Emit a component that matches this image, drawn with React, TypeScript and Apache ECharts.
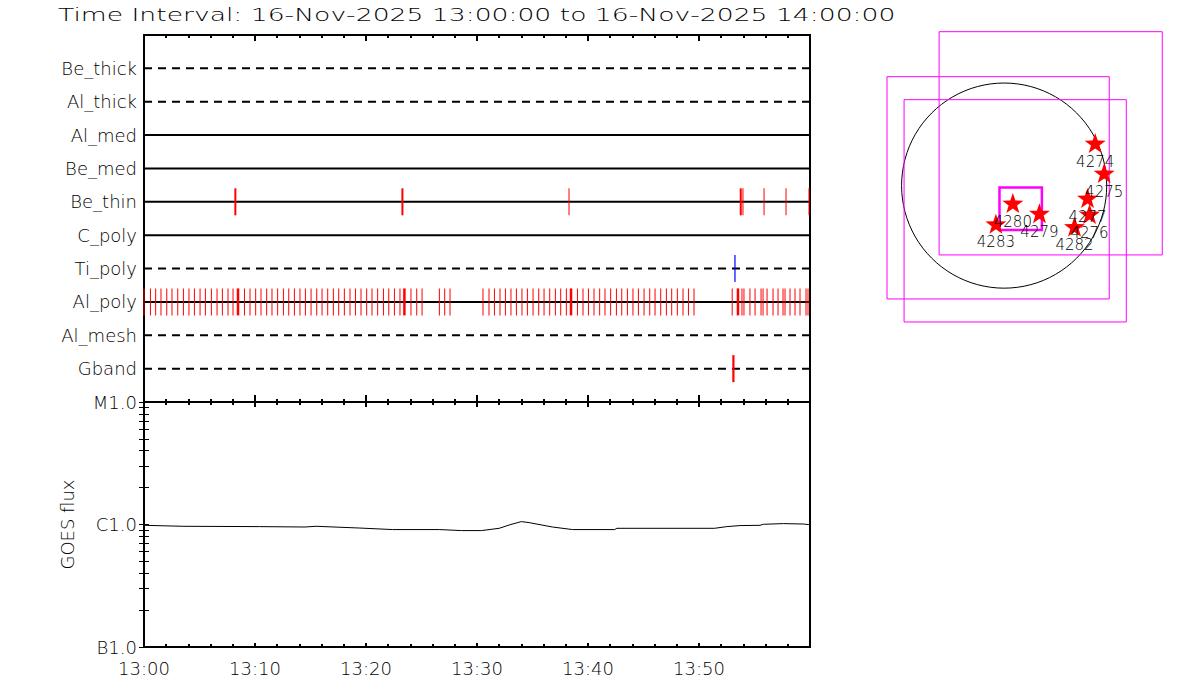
import React, { useEffect, useRef } from 'react';
import * as echarts from 'echarts';

const TITLE = 'Time Interval: 16-Nov-2025 13:00:00 to 16-Nov-2025 14:00:00';
const HOUR_PREFIX = '13:';

// upper panel rows, top to bottom
const ROW_NAMES = ['Be_thick', 'Al_thick', 'Al_med', 'Be_med', 'Be_thin', 'C_poly', 'Ti_poly', 'Al_poly', 'Al_mesh', 'Gband'];
const ROW_DASHED = [true, true, false, false, false, false, true, false, true, true];

// event times (minutes after 13:00)
const BE_THIN_THIN = [38.29, 53.96, 55.86, 57.84, 59.91];
const BE_THIN_THICK = [8.23, 23.28, 53.76];
const TI_POLY_BLUE = [53.24];
const GBAND_THICK = [53.1];
const AL_POLY_THICK = [8.47, 23.46, 38.47, 53.51];
const AL_POLY_THIN = [
  0.0, 0.58, 1.05, 1.53, 2.05, 2.52, 3.04, 3.55, 4.05, 4.54, 5.05, 5.53, 6.07, 6.58, 7.06, 7.57, 8.02,
  9.05, 9.55, 10.06, 10.54, 11.05, 11.53, 12.04, 12.56, 13.04, 13.55, 14.05, 14.54, 15.05, 15.56, 16.04,
  16.55, 17.06, 17.54, 18.05, 18.56, 19.05, 19.55, 20.06, 20.54, 21.05, 21.57, 22.05, 22.56, 23.06,
  24.05, 24.57, 25.05, 26.61, 27.09, 27.57,
  30.54, 31.08, 31.57, 32.07, 32.56, 33.06, 33.55, 34.05, 34.54, 35.05, 35.56, 36.04, 36.55, 37.06, 37.54,
  38.05, 39.05, 39.55, 40.04, 40.54, 41.05, 41.53, 42.04, 42.56, 43.04, 43.55, 44.05, 44.54, 45.05, 45.56,
  46.04, 46.55, 47.06, 47.54, 48.05, 48.56, 49.05, 49.55,
  52.99, 53.87, 54.05, 54.59, 55.05, 55.59, 55.77, 56.13, 56.67, 57.12, 57.57, 57.75, 58.2, 58.65, 59.1,
  59.64, 59.82,
];

// GOES flux (W/m^2)
const GOES_MIN = [0, 3.5, 10.4, 14.5, 15.5, 19.4, 22.4, 26.6, 28.6, 30.4, 32.0, 32.9, 34.0, 34.7, 36.8, 38.6, 42.4, 42.6, 51.4, 52.5, 53.7, 55.5, 55.8, 57.6, 59.4, 59.9];
const GOES_FLUX = [9.85e-7, 9.67e-7, 9.61e-7, 9.54e-7, 9.67e-7, 9.36e-7, 9.09e-7, 9.09e-7, 8.92e-7, 8.92e-7, 9.31e-7, 9.91e-7, 1.056e-6, 1.036e-6, 9.54e-7, 9.09e-7, 9.09e-7, 9.31e-7, 9.31e-7, 9.61e-7, 9.8e-7, 9.85e-7, 1.004e-6, 1.017e-6, 1.009e-6, 9.98e-7];
const GOES_CLASS_LABELS = ['B1.0', 'C1.0', 'M1.0'];
const GOES_DECADES = [1e-7, 1e-6, 1e-5];

// solar disk (arcsec)
const SUN_RADIUS = 968;
const REGION_NAMES = ['4274', '4275', '4277', '4276', '4282', '4280', '4279', '4283'];
const REGION_X = [859, 944, 787, 806, 664, 82, 333, -78];
const REGION_Y = [401, 118, -118, -269, -386, -165, -260, -361];
const FOV_CX = [439, -57, 104, 156];
const FOV_CY = [399, -21, -238, -219];
const FOV_SIZE = [2106, 2097, 2097, 400];
const FOV_LW = [1, 1, 1, 2.5];

const FONT = 'DejaVu Sans';
const WEIGHT = 200;
const STAR = 'path://M0,-10 L2.35,-3.24 L9.51,-3.09 L3.8,1.24 L5.88,8.09 L0,4 L-5.88,8.09 L-3.8,1.24 L-9.51,-3.09 L-2.35,-3.24 Z';

function rowValue(name: string) {
  return ROW_NAMES.length - ROW_NAMES.indexOf(name);
}

function tickSeries(times: number[], row: string, color: string, w: number) {
  const v = rowValue(row);
  return {
    type: 'scatter',
    xAxisIndex: 0,
    yAxisIndex: 0,
    symbol: 'rect',
    symbolSize: [w, 27],
    itemStyle: { color, opacity: 1 },
    z: 5,
    silent: true,
    data: times.map((t) => [t, v]),
  };
}

export default function App() {
  const ref = useRef<HTMLDivElement>(null);
  useEffect(() => {
    const chart = echarts.init(ref.current!, null, { renderer: 'svg' });
    const logTicks: number[] = [];
    for (const d of [1e-7, 1e-6]) for (let k = 1; k <= 9; k++) logTicks.push(k * d);
    logTicks.push(1e-5);

    const timeAxis = (gridIndex: number, position: string, majLen: number, minLen: number, labels: boolean) => ({
      type: 'value',
      gridIndex,
      position,
      min: 0,
      max: 60,
      interval: 10,
      axisLine: { show: true, lineStyle: { color: '#000', width: 2 } },
      axisTick: { show: true, inside: true, length: majLen, lineStyle: { color: '#000', width: 2 } },
      minorTick: { show: true, splitNumber: 5, length: minLen, lineStyle: { color: '#000', width: 2 } },
      splitLine: { show: false },
      axisLabel: labels
        ? {
            show: true,
            margin: 12,
            color: '#000',
            fontFamily: FONT,
            fontWeight: WEIGHT,
            fontSize: 18,
            formatter: (v: number) => (v >= 60 ? '' : HOUR_PREFIX + String(v).padStart(2, '0')),
          }
        : { show: false },
    });

    const logAxis = (position: string, labels: boolean) => ({
      type: 'log',
      logBase: 10,
      gridIndex: 1,
      position,
      min: 1e-7,
      max: 1e-5,
      axisLine: { show: true, lineStyle: { color: '#000', width: 2 } },
      axisTick: { show: true, inside: true, length: 5, customValues: logTicks, lineStyle: { color: '#000', width: 1 } },
      minorTick: { show: false },
      splitLine: { show: false },
      axisLabel: labels
        ? {
            show: true,
            margin: 7,
            color: '#000',
            fontFamily: FONT,
            fontWeight: WEIGHT,
            fontSize: 18,
            customValues: GOES_DECADES,
            formatter: (v: number) => {
              const i = GOES_DECADES.findIndex((d) => Math.abs(Math.log10(d) - Math.log10(v)) < 0.01);
              return i >= 0 ? GOES_CLASS_LABELS[i] : '';
            },
          }
        : { show: false },
      name: labels ? 'GOES flux' : '',
      nameLocation: 'middle',
      nameGap: 68,
      nameTextStyle: { color: '#000', fontFamily: FONT, fontWeight: WEIGHT, fontSize: 18 },
    });

    const rowLines = ROW_NAMES.map((name, i) => ({
      type: 'line',
      xAxisIndex: 0,
      yAxisIndex: 0,
      symbol: 'none',
      silent: true,
      lineStyle: { color: '#000', width: 2, type: ROW_DASHED[i] ? [8, 6] : 'solid' },
      data: [
        [0, rowValue(name)],
        [60, rowValue(name)],
      ],
      z: 3,
    }));

    const option: any = {
      animation: false,
      backgroundColor: '#fff',
      textStyle: { fontFamily: FONT },
      grid: [
        { left: 144, top: 35, width: 666, height: 367, show: true, borderColor: '#000', borderWidth: 2, backgroundColor: 'transparent', outerBoundsMode: 'none' },
        { left: 144, top: 402, width: 666, height: 245, show: true, borderColor: '#000', borderWidth: 2, backgroundColor: 'transparent', outerBoundsMode: 'none' },
        { left: 877, top: 16, width: 302, height: 318, show: false, outerBoundsMode: 'none' },
      ],
      xAxis: [
        timeAxis(0, 'bottom', 7, 3, false),
        timeAxis(0, 'top', 6, 3, false),
        timeAxis(1, 'bottom', 4, 3, true),
        timeAxis(1, 'top', 5, 3, false),
        { type: 'value', gridIndex: 2, min: -1200, max: 1650, show: false },
      ],
      yAxis: [
        {
          type: 'value',
          gridIndex: 0,
          min: 0,
          max: 11,
          interval: 1,
          axisLine: { show: true, lineStyle: { color: '#000', width: 2 } },
          axisTick: { show: false },
          splitLine: { show: false },
          axisLabel: {
            show: true,
            margin: 7,
            color: '#000',
            fontFamily: FONT,
            fontWeight: WEIGHT,
            fontSize: 18,
            formatter: (v: number) => (v >= 1 && v <= ROW_NAMES.length ? ROW_NAMES[ROW_NAMES.length - v] : ''),
          },
        },
        logAxis('left', true),
        logAxis('right', false),
        { type: 'value', gridIndex: 2, min: -1400, max: 1600, show: false },
      ],
      graphic: [
        {
          type: 'text',
          x: 58,
          y: 15,
          scaleX: 1.478,
          style: { text: TITLE, fill: '#000', font: `${WEIGHT} 18px "${FONT}"`, textVerticalAlign: 'middle' },
        },
      ],
      series: [
        ...rowLines,
        tickSeries(AL_POLY_THIN, 'Al_poly', '#ff0000', 1),
        tickSeries(AL_POLY_THICK, 'Al_poly', '#ff0000', 2.5),
        tickSeries(BE_THIN_THIN, 'Be_thin', '#ff0000', 1),
        tickSeries(BE_THIN_THICK, 'Be_thin', '#ff0000', 2),
        tickSeries(TI_POLY_BLUE, 'Ti_poly', '#0000ff', 1.2),
        tickSeries(GBAND_THICK, 'Gband', '#ff0000', 2.2),
        {
          type: 'line',
          xAxisIndex: 2,
          yAxisIndex: 1,
          symbol: 'none',
          silent: true,
          lineStyle: { color: '#000', width: 1 },
          data: GOES_MIN.map((m, i) => [m, GOES_FLUX[i]]),
        },
        {
          type: 'custom',
          xAxisIndex: 4,
          yAxisIndex: 3,
          silent: true,
          clip: false,
          data: [[0, 0, SUN_RADIUS]],
          renderItem: (params: any, api: any) => {
            const c = api.coord([api.value(0), api.value(1)]);
            const r = api.size([api.value(2), 0])[0];
            return { type: 'circle', shape: { cx: c[0], cy: c[1], r }, style: { fill: 'none', stroke: '#000', lineWidth: 1 } };
          },
        },
        {
          type: 'custom',
          xAxisIndex: 4,
          yAxisIndex: 3,
          silent: true,
          clip: false,
          data: FOV_CX.map((cx, i) => [cx, FOV_CY[i], FOV_SIZE[i], FOV_LW[i]]),
          renderItem: (params: any, api: any) => {
            const cx = api.value(0);
            const cy = api.value(1);
            const s = api.value(2);
            const p1 = api.coord([cx - s / 2, cy + s / 2]);
            const p2 = api.coord([cx + s / 2, cy - s / 2]);
            return {
              type: 'rect',
              shape: { x: p1[0], y: p1[1], width: p2[0] - p1[0], height: p2[1] - p1[1] },
              style: { fill: 'none', stroke: '#ff00ff', lineWidth: api.value(3) },
            };
          },
        },
        {
          type: 'scatter',
          xAxisIndex: 4,
          yAxisIndex: 3,
          silent: true,
          symbol: STAR,
          symbolSize: [21, 20],
          itemStyle: { color: '#ff0000', opacity: 1 },
          z: 6,
          label: {
            show: true,
            position: 'bottom',
            distance: 1,
            color: '#000',
            fontFamily: FONT,
            fontWeight: WEIGHT,
            fontSize: 15,
            formatter: (p: any) => REGION_NAMES[p.dataIndex],
          },
          data: REGION_X.map((x, i) => [x, REGION_Y[i]]),
        },
      ],
    };
    chart.setOption(option);
    return () => chart.dispose();
  }, []);
  return <div ref={ref} style={{ position: 'fixed', left: 0, top: 0, width: 1200, height: 700, background: '#fff' }} />;
}
